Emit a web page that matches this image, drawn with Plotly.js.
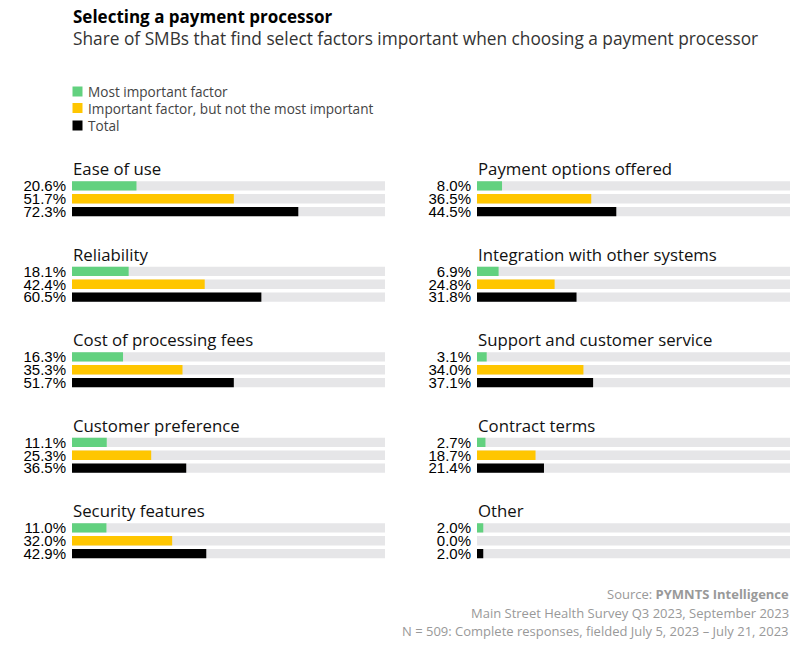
<!DOCTYPE html>
<html>
<head>
<meta charset="utf-8">
<script src="https://cdn.plot.ly/plotly-3.0.1.min.js"></script>
<style>html,body{margin:0;padding:0;background:#fff;}#chart{width:810px;height:654px;}</style>
</head>
<body>
<div id="chart"></div>
<script>
// ---- Data ----
const factors = [
  "Ease of use", "Payment options offered",
  "Reliability", "Integration with other systems",
  "Cost of processing fees", "Support and customer service",
  "Customer preference", "Contract terms",
  "Security features", "Other"
];
const seriesNames = ["Most important factor", "Important factor, but not the most important", "Total"];
const mostImportant = [20.6, 8.0, 18.1, 6.9, 16.3, 3.1, 11.1, 2.7, 11.0, 2.0];
const importantNotMost = [51.7, 36.5, 42.4, 24.8, 35.3, 34.0, 25.3, 18.7, 32.0, 0.0];
const total = [72.3, 44.5, 60.5, 31.8, 51.7, 37.1, 36.5, 21.4, 42.9, 2.0];
const fullScale = 100;

// ---- Styles ----
const colors = ["#62d17f", "#ffc600", "#000000"];
const trackColor = "#e6e6e8";
const W = 810, H = 654;
const px = x => x / W;
const py = y => 1 - y / H;

const titleFont = "Open Sans, Liberation Sans, sans-serif";
const labelFont = "Liberation Sans, Arial, sans-serif";

const colX = [[72, 385], [477, 790]];
const rowTop0 = 179.5, rowBot0 = 218, rowPitch = 85.5;

const traces = [];
const layout = {
  width: W, height: H,
  margin: {l: 0, r: 0, t: 0, b: 0},
  paper_bgcolor: "#fff", plot_bgcolor: "#fff",
  showlegend: false,
  barmode: "overlay",
  bargap: 0.27,
  annotations: [],
  shapes: []
};

factors.forEach((name, i) => {
  const col = i % 2, row = Math.floor(i / 2);
  const n = i + 1;
  const xa = n === 1 ? "x" : "x" + n;
  const ya = n === 1 ? "y" : "y" + n;
  const vals = [mostImportant[i], importantNotMost[i], total[i]];
  // background tracks
  traces.push({
    type: "bar", orientation: "h",
    x: seriesNames.map(() => fullScale), y: seriesNames,
    xaxis: xa, yaxis: ya,
    marker: {color: trackColor},
    hoverinfo: "skip"
  });
  traces.push({
    type: "bar", orientation: "h",
    x: vals, y: seriesNames,
    xaxis: xa, yaxis: ya,
    marker: {color: colors},
    hovertemplate: "%{y}: %{x:.1f}%<extra>" + name + "</extra>"
  });
  const top = rowTop0 + rowPitch * row, bot = rowBot0 + rowPitch * row;
  layout["xaxis" + (n === 1 ? "" : n)] = {
    domain: [px(colX[col][0]), px(colX[col][1])],
    range: [0, fullScale], anchor: ya,
    showgrid: false, zeroline: false, showticklabels: false, showline: false, fixedrange: true
  };
  layout["yaxis" + (n === 1 ? "" : n)] = {
    domain: [py(bot), py(top)],
    anchor: xa,
    type: "category",
    autorange: "reversed",
    showgrid: false, zeroline: false, showline: false, fixedrange: true,
    ticks: "",
    tickmode: "array",
    tickvals: seriesNames,
    ticktext: vals.map(v => v.toFixed(1) + "%"),
    ticklabelstandoff: 5,
    tickfont: {family: labelFont, size: 15, color: "#000"}
  };
  layout.annotations.push({
    xref: "paper", yref: "paper",
    x: px(colX[col][0] - 1.5), y: py(top - 11),
    xanchor: "left", yanchor: "middle",
    text: name, showarrow: false,
    font: {family: titleFont, size: 16.8, color: "#111"}
  });
});

// Title and subtitle
layout.annotations.push({
  xref: "paper", yref: "paper", x: px(71), y: py(17), xanchor: "left", yanchor: "middle",
  text: "<b>Selecting a payment processor</b>", showarrow: false,
  font: {family: titleFont, size: 17, color: "#000", weight: 800}
});
layout.annotations.push({
  xref: "paper", yref: "paper", x: px(70.5), y: py(38), xanchor: "left", yanchor: "middle",
  text: "Share of SMBs that find select factors important when choosing a payment processor", showarrow: false,
  font: {family: titleFont, size: 17.3, color: "#333"}
});

// Legend
const legendY = [91.5, 108, 125.5];
seriesNames.forEach((s, k) => {
  layout.shapes.push({
    type: "rect", xref: "paper", yref: "paper",
    x0: px(72.5), x1: px(82.5), y0: py(legendY[k] + 5), y1: py(legendY[k] - 5),
    fillcolor: colors[k], line: {width: 0}
  });
  layout.annotations.push({
    xref: "paper", yref: "paper", x: px(86), y: py(legendY[k]), xanchor: "left", yanchor: "middle",
    text: s, showarrow: false,
    font: {family: titleFont, size: 13.6, color: "#444"}
  });
});

// Footer
const footer = [
  ["Source: <b>PYMNTS Intelligence</b>", 594],
  ["Main Street Health Survey Q3 2023, September 2023", 612.5],
  ["N = 509: Complete responses, fielded July 5, 2023 – July 21, 2023", 631]
];
footer.forEach(f => {
  layout.annotations.push({
    xref: "paper", yref: "paper", x: px(791), y: py(f[1]), xanchor: "right", yanchor: "middle",
    text: f[0], showarrow: false,
    font: {family: titleFont, size: 13, color: "#999"}
  });
});

Plotly.newPlot("chart", traces, layout, {displayModeBar: false, staticPlot: true});
</script>
</body>
</html>
